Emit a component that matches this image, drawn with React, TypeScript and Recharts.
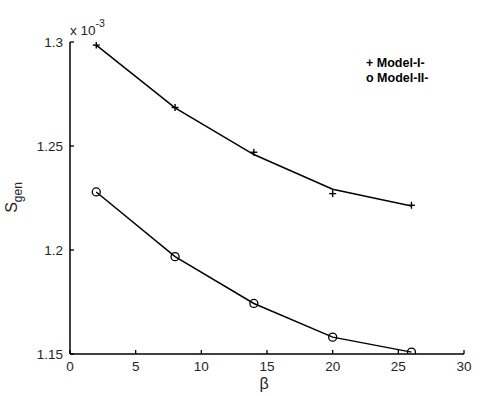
import { ComposedChart, Line, XAxis, YAxis } from 'recharts';

// beta values along the x axis
const beta = [2, 8, 14, 20, 26];
// Sgen (x 10^-3): Model-I curve, Model-I measured points, Model-II
const modelIFit = [1.2985, 1.2683, 1.2459, 1.2292, 1.2212];
const modelIMarks = [1.2985, 1.2685, 1.247, 1.2271, 1.2215];
const modelII = [1.2279, 1.1968, 1.1743, 1.1581, 1.1509];

const xTicks = [0, 5, 10, 15, 20, 25, 30];
const yTicks = [1.15, 1.2, 1.25, 1.3];

const data = beta.map((b, i) => ({
  beta: b,
  fitI: modelIFit[i],
  markI: modelIMarks[i],
  modelII: modelII[i],
}));

const FONT = '"Liberation Sans", Arial, sans-serif';
const TXT = '#262626';

function XTick({ x, y, payload }: any) {
  return (
    <g>
      <line x1={x} y1={y} x2={x} y2={y - 4} stroke="#000" strokeWidth={1.3} />
      <text x={x} y={y + 16.5} textAnchor="middle" fontSize={13.5} fontFamily={FONT} fill={TXT}>
        {payload.value}
      </text>
    </g>
  );
}

function YTick({ x, y, payload }: any) {
  return (
    <g>
      <line x1={x} y1={y} x2={x + 4} y2={y} stroke="#000" strokeWidth={1.3} />
      <text x={x - 7} y={y + 4.5} textAnchor="end" fontSize={13.5} fontFamily={FONT} fill={TXT}>
        {String(payload.value)}
      </text>
    </g>
  );
}

function PlusDot({ cx, cy, index }: any) {
  return (
    <g key={`p${index}`}>
      <line x1={cx - 3.5} y1={cy} x2={cx + 3.5} y2={cy} stroke="#000" strokeWidth={1.4} />
      <line x1={cx} y1={cy - 3.5} x2={cx} y2={cy + 3.5} stroke="#000" strokeWidth={1.4} />
    </g>
  );
}

function CircleDot({ cx, cy, index }: any) {
  return <circle key={`c${index}`} cx={cx} cy={cy} r={4} fill="none" stroke="#000" strokeWidth={1.3} />;
}

export default function App() {
  return (
    <div style={{ position: 'relative', width: 480, height: 396, background: '#fff' }}>
      <style>{'body{margin:0}'}</style>
      <ComposedChart
        width={480}
        height={396}
        data={data}
        margin={{ top: 42, right: 16, left: 10, bottom: 12 }}
      >
        <XAxis
          dataKey="beta"
          type="number"
          domain={[0, 30]}
          ticks={xTicks}
          tick={<XTick />}
          tickLine={false}
          tickSize={0}
          tickMargin={0}
          height={30}
          axisLine={{ stroke: '#000', strokeWidth: 1.5 }}
          interval={0}
        />
        <YAxis
          type="number"
          domain={[1.15, 1.3]}
          ticks={yTicks}
          tick={<YTick />}
          tickLine={false}
          tickSize={0}
          tickMargin={0}
          width={60}
          axisLine={{ stroke: '#000', strokeWidth: 1.5 }}
          interval={0}
          allowDataOverflow
        />
        <Line
          type="linear"
          dataKey="fitI"
          stroke="#000"
          strokeWidth={1.5}
          dot={false}
          activeDot={false}
          isAnimationActive={false}
        />
        <Line
          type="linear"
          dataKey="markI"
          stroke="none"
          dot={PlusDot}
          activeDot={false}
          isAnimationActive={false}
        />
        <Line
          type="linear"
          dataKey="modelII"
          stroke="#000"
          strokeWidth={1.5}
          dot={CircleDot}
          activeDot={false}
          isAnimationActive={false}
        />
      </ComposedChart>
      <svg
        width={480}
        height={396}
        style={{ position: 'absolute', left: 0, top: 0, pointerEvents: 'none' }}
        fontFamily={FONT}
      >
        <text x={70} y={35} fontSize={13.5} fill={TXT}>
          x 10<tspan dy={-8} fontSize={10.5}>-3</tspan>
        </text>
        <text x={366} y={67} fontSize={12.5} fontWeight="bold" fill="#000">+ Model-I-</text>
        <text x={366} y={81.5} fontSize={12.5} fontWeight="bold" fill="#000">o Model-II-</text>
        <text x={264} y={389} fontSize={16} textAnchor="middle" fill={TXT}>β</text>
        <text x={17} y={197.5} transform="rotate(-90, 17, 197.5)" textAnchor="middle" fontSize={16} fill={TXT}>
          S<tspan dy={5} fontSize={12}>gen</tspan>
        </text>
      </svg>
    </div>
  );
}
